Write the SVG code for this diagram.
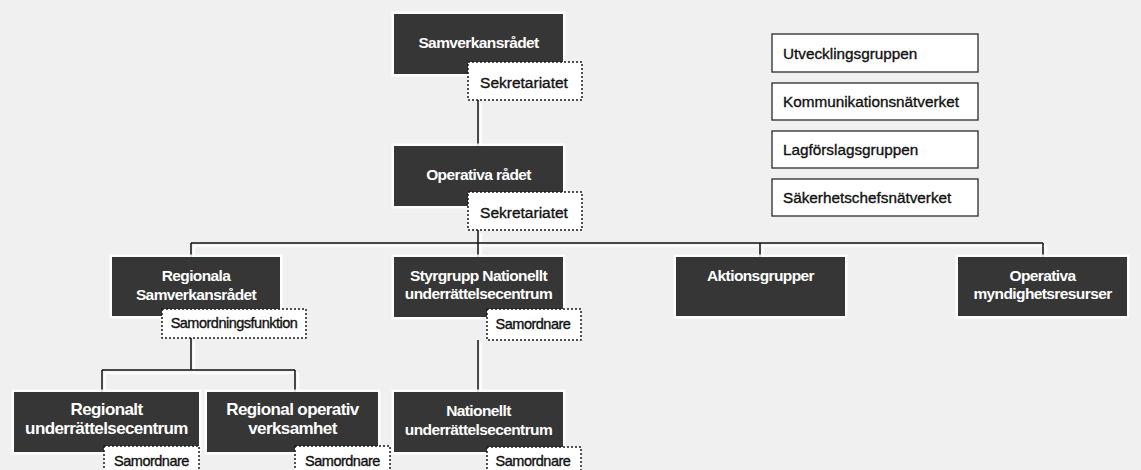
<svg xmlns="http://www.w3.org/2000/svg" width="1141" height="470" viewBox="0 0 1141 470">
  <style>
    .bg { fill: #f0f0f0; }
    .dark { fill: #363636; stroke: #ffffff; stroke-width: 5; stroke-opacity: 0.85; paint-order: stroke; }
    .dash { fill: #ffffff; stroke: #1a1a1a; stroke-width: 1.5; stroke-dasharray: 2 2; }
    .plain { fill: #ffffff; stroke: #2a2a2a; stroke-width: 1.3; }
    .wt { font-family: "Liberation Sans", Arial, sans-serif; font-weight: bold; font-size: 15.5px; letter-spacing: -0.6px; fill: #ffffff; text-anchor: middle; }
    .wt-lg { font-size: 17px; }
    .bt { font-family: "Liberation Sans", Arial, sans-serif; font-weight: normal; fill: #111111; stroke: #111111; stroke-width: 0.35; }
    .sek { font-size: 15.5px; text-anchor: middle; }
    .sam { font-size: 14.5px; letter-spacing: -0.5px; text-anchor: middle; }
    .side { font-size: 15.3px; }
    .wire { fill: none; stroke: #111111; stroke-width: 1.5; }
    .halo { fill: none; stroke: #ffffff; stroke-width: 2.5; stroke-opacity: 0.8; }
  </style>

  <rect class="bg" x="0" y="0" width="1141" height="470"/>

  <!-- connectors -->
  <g id="connectors">
    <g transform="translate(3,3)">
      <path class="halo" d="M478 100 V146 M478 230 V257 M191 243 H1043 M191 243 V257 M760 243 V257 M1043 243 V257 M478 340 V392 M191 338 V370 M102 370 H295 M102 370 V392 M295 370 V392"/>
    </g>
    <path class="wire" d="M478 100 V146"/>
    <path class="wire" d="M478 230 V257"/>
    <path class="wire" d="M191 243 H1043"/>
    <path class="wire" d="M191 243 V257 M760 243 V257 M1043 243 V257"/>
    <path class="wire" d="M478 340 V392"/>
    <path class="wire" d="M191 338 V370 M102 370 H295 M102 370 V392 M295 370 V392"/>
  </g>

  <!-- top level -->
  <g id="samverkansradet">
    <rect class="dark" x="394" y="14" width="169" height="60"/>
    <text class="wt" x="478.5" y="48">Samverkansrådet</text>
  </g>
  <g id="sekretariatet-1">
    <rect class="dash" x="468" y="62" width="114" height="38"/>
    <text class="bt sek" x="524" y="88">Sekretariatet</text>
  </g>

  <g id="operativa-radet">
    <rect class="dark" x="394" y="146" width="169" height="60"/>
    <text class="wt" x="478.5" y="180">Operativa rådet</text>
  </g>
  <g id="sekretariatet-2">
    <rect class="dash" x="468" y="192" width="114" height="38"/>
    <text class="bt sek" x="524" y="218">Sekretariatet</text>
  </g>

  <!-- side groups -->
  <g id="utvecklingsgruppen">
    <rect class="plain" x="772" y="34" width="206" height="38"/>
    <text class="bt side" x="783" y="59">Utvecklingsgruppen</text>
  </g>
  <g id="kommunikationsnatverket">
    <rect class="plain" x="772" y="83" width="206" height="37"/>
    <text class="bt side" x="783" y="107">Kommunikationsnätverket</text>
  </g>
  <g id="lagforslagsgruppen">
    <rect class="plain" x="772" y="131" width="206" height="37"/>
    <text class="bt side" x="783" y="155">Lagförslagsgruppen</text>
  </g>
  <g id="sakerhetschefsnatverket">
    <rect class="plain" x="772" y="179" width="206" height="37"/>
    <text class="bt side" x="783" y="203">Säkerhetschefsnätverket</text>
  </g>

  <!-- second level -->
  <g id="regionala-samverkansradet">
    <rect class="dark" x="112" y="257" width="168" height="59"/>
    <text class="wt" x="196" y="281">Regionala</text>
    <text class="wt" x="196" y="300">Samverkansrådet</text>
  </g>
  <g id="samordningsfunktion">
    <rect class="dash" x="162" y="309" width="144" height="29"/>
    <text class="bt sam" x="234" y="328">Samordningsfunktion</text>
  </g>

  <g id="styrgrupp">
    <rect class="dark" x="394" y="257" width="169" height="60"/>
    <text class="wt" x="478.5" y="281">Styrgrupp Nationellt</text>
    <text class="wt" x="478.5" y="299">underrättelsecentrum</text>
  </g>
  <g id="samordnare-styrgrupp">
    <rect class="dash" x="487" y="309" width="94" height="31"/>
    <text class="bt sam" x="533" y="329">Samordnare</text>
  </g>

  <g id="aktionsgrupper">
    <rect class="dark" x="676" y="257" width="169" height="59"/>
    <text class="wt" x="760.5" y="281">Aktionsgrupper</text>
  </g>

  <g id="operativa-myndighetsresurser">
    <rect class="dark" x="958" y="257" width="169" height="59"/>
    <text class="wt" x="1042.5" y="281">Operativa</text>
    <text class="wt" x="1042.5" y="299">myndighetsresurser</text>
  </g>

  <!-- third level -->
  <g id="regionalt-underrattelsecentrum">
    <rect class="dark" x="14" y="392" width="185" height="60"/>
    <text class="wt wt-lg" x="106.5" y="415">Regionalt</text>
    <text class="wt wt-lg" x="106.5" y="434">underrättelsecentrum</text>
  </g>
  <g id="samordnare-regionalt">
    <rect class="dash" x="104" y="446" width="95" height="30"/>
    <text class="bt sam" x="151.5" y="466">Samordnare</text>
  </g>

  <g id="regional-operativ-verksamhet">
    <rect class="dark" x="207" y="392" width="171" height="60"/>
    <text class="wt wt-lg" x="292.5" y="415">Regional operativ</text>
    <text class="wt wt-lg" x="292.5" y="434">verksamhet</text>
  </g>
  <g id="samordnare-operativ">
    <rect class="dash" x="295" y="446" width="95" height="30"/>
    <text class="bt sam" x="342.5" y="466">Samordnare</text>
  </g>

  <g id="nationellt-underrattelsecentrum">
    <rect class="dark" x="394" y="392" width="169" height="60"/>
    <text class="wt" x="478.5" y="416">Nationellt</text>
    <text class="wt" x="478.5" y="435">underrättelsecentrum</text>
  </g>
  <g id="samordnare-nationellt">
    <rect class="dash" x="487" y="447" width="94" height="29"/>
    <text class="bt sam" x="533" y="466">Samordnare</text>
  </g>
</svg>
